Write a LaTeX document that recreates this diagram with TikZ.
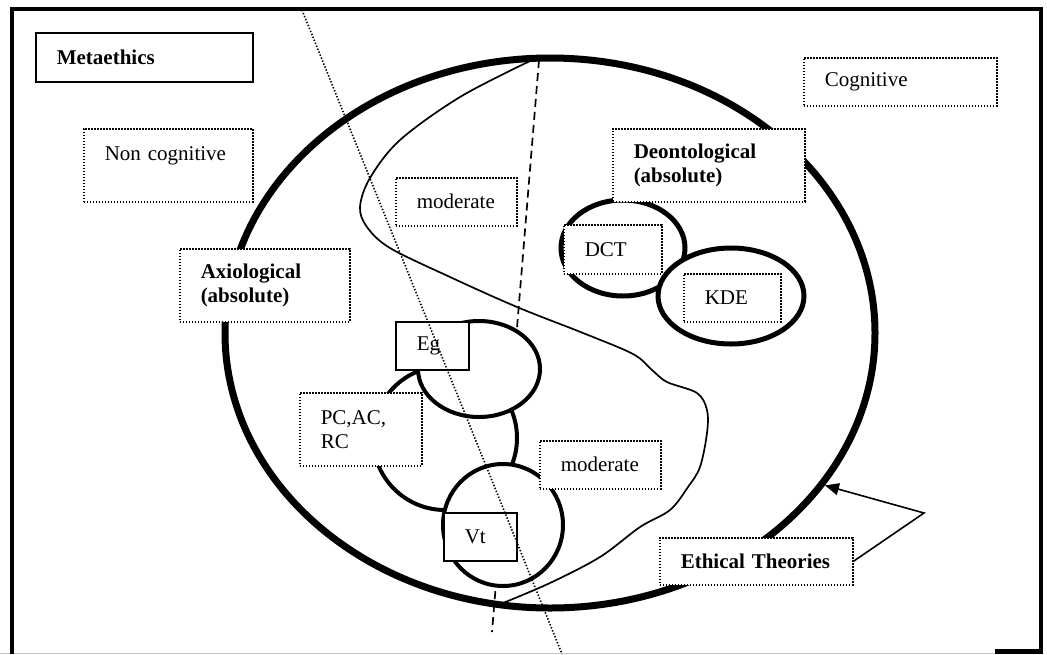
\documentclass[tikz,border=0pt]{standalone}
\usepackage{fontspec}
\setmainfont{Liberation Serif}
\usetikzlibrary{shapes.geometric,arrows.meta}
\begin{document}
\begin{tikzpicture}[x=1pt,y=-1pt,
  every node/.style={font=\fontsize{21}{24}\selectfont},
  dbox/.style={draw, line width=1.5pt, dash pattern=on 1.4pt off 1.6pt, fill=white, anchor=north west, inner xsep=21pt, inner ysep=0pt, align=left},
  sbox/.style={draw, line width=1.6pt, fill=white, anchor=north west, inner xsep=21pt, inner ysep=0pt, align=left},
  oval/.style={ellipse, draw, fill=white, inner sep=0pt},
  frameline/.style={line width=4.5pt},
  divdot/.style={line width=1.6pt, dash pattern=on 1.4pt off 1.8pt},
  divdash/.style={line width=1.7pt, dash pattern=on 8pt off 5pt},
]
\useasboundingbox (0,0) rectangle (1047,654);
% frame
\draw[gray!45, line width=1pt] (0,653) -- (995,653);
\draw[frameline] (12,654) -- (12,9) -- (1041,9) -- (1041,651);
\draw[frameline] (995,651.5) -- (1043,651.5);

% big ellipse
\node[oval, fill=none, line width=7pt, minimum width=650pt, minimum height=550pt] (big) at (550,333) {};

% S-shaped divider
\draw[line width=1.7pt] plot[smooth, tension=0.55] coordinates {
 (530,61) (460,97) (400,140) (370,178) (360,207) (367,227) (390,248) (450,277)
 (517,307) (583,333) (633,354) (652,370) (667,382) (697,393) (707,410) (707,433)
 (700,467) (688,487) (670,510) (640,527) (600,557) (550,583) (503,603)};

% dashed divider
\coordinate (dashA) at (539,60);
\coordinate (dashB) at (492,632);
\draw[divdash] (dashA) -- (dashB);

% axiological circles
\node[oval, line width=4pt, minimum width=144pt, minimum height=144pt] (mid) at (445,438) {};
\node[oval, line width=4pt, minimum width=122pt, minimum height=96pt] (egc) at (479,369) {};
\node[oval, line width=4pt, minimum width=120pt, minimum height=122pt] (vtc) at (503,525) {};

% deontological ovals
\node[oval, line width=5pt, minimum width=124pt, minimum height=96pt] (dctc) at (623,248) {};
\node[oval, line width=5pt, minimum width=146pt, minimum height=96pt] (kdec) at (731,296) {};

% boxes
\node[sbox, text width=175pt, minimum height=49pt] (meta) at (35,32) {\textbf{Metaethics}};
\node[dbox, text width=127pt, minimum height=73pt] (noncog) at (83,128) {Non cognitive\\\mbox{}};
\node[dbox, text width=151pt, minimum height=48pt] (cog) at (803,57) {Cognitive};
\node[dbox, text width=150pt, minimum height=73pt] (deon) at (612,128) {\textbf{Deontological}\\\textbf{(absolute)}};
\node[dbox, text width=79pt, minimum height=48pt] (mod1) at (395,177) {moderate};
\node[dbox, text width=128pt, minimum height=73pt] (axio) at (179,248) {\textbf{Axiological}\\\textbf{(absolute)}};
\node[sbox, text width=31pt, minimum height=48pt] (eg) at (395,321) {Eg};
\node[dbox, text width=80pt, minimum height=73pt] (pc) at (299,392) {PC,AC,\\RC};
\node[sbox, text width=31pt, minimum height=48pt] (vt) at (443,512) {Vt};
\node[dbox, text width=79pt, minimum height=48pt] (mod2) at (539,440) {moderate};
\node[dbox, text width=56pt, minimum height=49pt] (dct) at (563,224) {DCT};
\node[dbox, text width=55pt, minimum height=48pt] (kde) at (683,273) {KDE};
\node[dbox, text width=151pt, minimum height=47pt] (eth) at (659,537) {\textbf{Ethical Theories}};

% dotted divider
\coordinate (dotA) at (302,10);
\coordinate (dotB) at (562,654);
\draw[divdot] (dotA) -- (dotB);

% arrow
\coordinate (bend) at (924,513);
\draw[line width=1.6pt, -{Triangle[length=14pt,width=12pt]}] (eth.east) -- (bend) -- (big.-29);
\end{tikzpicture}
\end{document}
